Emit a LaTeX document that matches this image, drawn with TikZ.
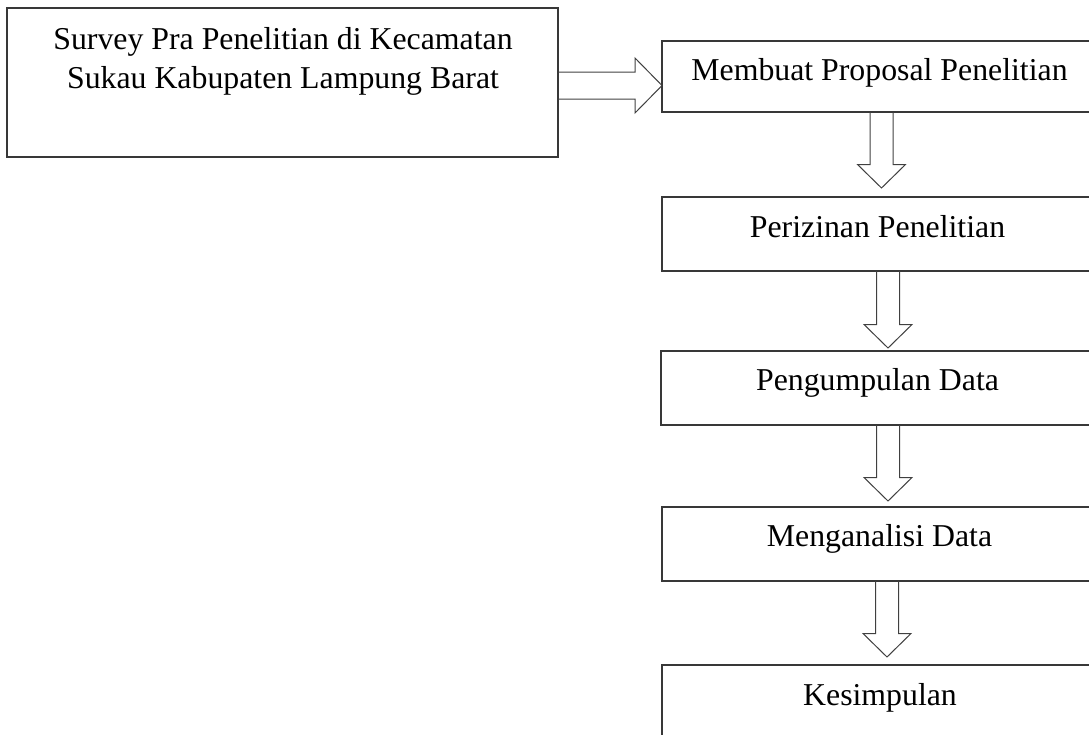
\documentclass[tikz,border=0pt]{standalone}
\usepackage{fontspec}
\setmainfont{Liberation Serif}
\usetikzlibrary{calc}
\newcommand\blockdown[4]{%
  \draw[blk] let \p1=(#1.south), \p2=(#2.north) in
    (#3pt-11.5pt,\y1) -- (#3pt-11.5pt,\y2+#4pt+23.5pt) -- (#3pt-24pt,\y2+#4pt+23.5pt)
    -- (#3pt,\y2+#4pt) -- (#3pt+24pt,\y2+#4pt+23.5pt) -- (#3pt+11.5pt,\y2+#4pt+23.5pt)
    -- (#3pt+11.5pt,\y1);
}
\begin{document}
\begin{tikzpicture}[x=1pt,y=-1pt,
  box/.style={draw=black!78,line width=1.3pt,rectangle,inner sep=0pt,outer sep=0pt,anchor=north west},
  txt/.style={font=\fontsize{31.8}{39}\selectfont,inner sep=0pt,anchor=base},
  blk/.style={draw=black!75,line width=1pt,line join=miter}]
\useasboundingbox (0,0) rectangle (1089,734);
\clip (0,0) rectangle (1089,734);
\node[box,minimum width=551pt,minimum height=149pt] (b1) at (7,8) {};
\node[box,minimum width=440pt,minimum height=71pt] (b2) at (662,41) {};
\node[box,minimum width=440pt,minimum height=74pt] (b3) at (662,197) {};
\node[box,minimum width=440pt,minimum height=74pt] (b4) at (661,351) {};
\node[box,minimum width=440pt,minimum height=74pt] (b5) at (662,507) {};
\node[box,minimum width=440pt,minimum height=120pt] (b6) at (662,665) {};
\node[txt] (t1a) at (283,49) {Survey Pra Penelitian di Kecamatan};
\node[txt] (t1b) at (283,88) {Sukau Kabupaten Lampung Barat};
\node[txt] (t2) at (879.5,80) {Membuat Proposal Penelitian};
\node[txt] (t3) at (877.5,237) {Perizinan Penelitian};
\node[txt] (t4) at (877.5,390.5) {Pengumpulan Data};
\node[txt] (t5) at (879.5,546) {Menganalisi Data};
\node[txt] (t6) at (880,705) {Kesimpulan};
\draw[blk] let \p1=(b1.east), \p2=(b2.west) in
  (\x1,-72pt) -- (\x2-27pt,-72pt) -- (\x2-27pt,-58pt) -- (\x2,-85.5pt)
  -- (\x2-27pt,-113pt) -- (\x2-27pt,-99pt) -- (\x1,-99pt);
\blockdown{b2}{b3}{881.5}{9}
\blockdown{b3}{b4}{888}{3}
\blockdown{b4}{b5}{888}{6}
\blockdown{b5}{b6}{887}{8}
\end{tikzpicture}
\end{document}
